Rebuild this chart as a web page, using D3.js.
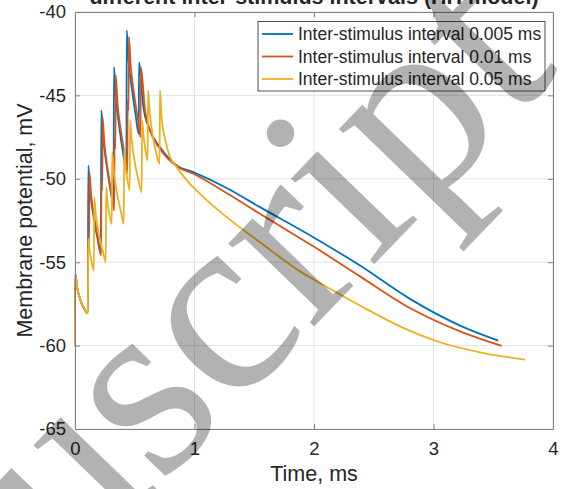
<!DOCTYPE html>
<html>
<head>
<meta charset="utf-8">
<script src="https://cdn.jsdelivr.net/npm/d3@7"></script>
<style>
  body { margin: 0; background: #fff; }
  text { font-family: "Liberation Sans", Arial, sans-serif; fill: #262626; }
</style>
</head>
<body>
<svg width="571" height="489"></svg>
<script>
// legend labels and colours (MATLAB default order)
const seriesNames = ['Inter-stimulus interval 0.005 ms', 'Inter-stimulus interval 0.01 ms', 'Inter-stimulus interval 0.05 ms'];
const seriesColors = ['#0072BD', '#D95319', '#EDB120'];

const xTicks = [0, 1, 2, 3, 4];
const yTicks = [-65, -60, -55, -50, -45, -40];

// [time ms, membrane potential mV]
const isi005 = [
  [0, -60], [0.002, -55.7], [0.02, -56.6], [0.042, -57.2], [0.07, -57.7], [0.108, -58.05],
  [0.111, -49.2], [0.125, -50.6], [0.156, -52.3], [0.186, -53.5], [0.217, -54.5],
  [0.220, -45.9], [0.234, -47.4], [0.265, -49.2], [0.295, -50.6], [0.323, -51.6],
  [0.326, -43.3], [0.340, -45.0], [0.371, -46.9], [0.401, -48.4], [0.430, -49.5],
  [0.433, -41.1], [0.447, -42.8], [0.478, -44.7], [0.508, -46.2], [0.533, -47.3],
  [0.536, -43.0], [0.572, -45.7], [0.628, -47.1], [0.711, -48.1], [0.851, -49.2],
  [0.990, -49.6], [1.269, -50.55], [1.548, -51.7], [1.994, -53.5], [2.385, -55.2],
  [2.803, -57.2], [3.222, -58.8], [3.542, -59.7]
];

const isi01 = [
  [0, -60], [0.002, -55.7], [0.02, -56.6], [0.042, -57.2], [0.07, -57.7], [0.108, -58.05],
  [0.111, -53.6], [0.118, -54.0], [0.121, -49.6], [0.135, -50.95], [0.166, -52.5], [0.196, -53.7], [0.218, -54.6],
  [0.221, -50.2], [0.228, -50.7], [0.231, -46.3], [0.245, -47.8], [0.276, -49.55], [0.306, -50.9], [0.328, -51.9],
  [0.331, -47.5], [0.338, -48.2], [0.341, -43.8], [0.355, -45.4], [0.386, -47.2], [0.416, -48.6], [0.438, -49.7],
  [0.441, -45.3], [0.448, -45.9], [0.451, -41.5], [0.465, -43.1], [0.496, -45.0], [0.526, -46.4], [0.548, -47.5],
  [0.551, -43.3], [0.586, -45.9], [0.628, -47.1], [0.711, -48.2], [0.851, -49.25],
  [0.990, -49.7], [1.269, -50.85], [1.548, -52.1], [1.994, -54.05], [2.385, -55.85],
  [2.803, -57.75], [3.222, -59.15], [3.571, -60.02]
];

const isi05 = [
  [0, -60], [0.002, -55.7], [0.02, -56.6], [0.042, -57.2], [0.07, -57.7], [0.108, -58.05],
  [0.111, -53.6], [0.125, -54.4], [0.14, -55.0], [0.158, -55.5],
  [0.161, -51.1], [0.175, -52.2], [0.205, -53.5], [0.235, -54.4], [0.258, -55.0],
  [0.261, -50.5], [0.275, -51.6], [0.29, -52.2], [0.308, -52.7],
  [0.311, -48.4], [0.325, -49.6], [0.355, -51.0], [0.385, -52.0], [0.408, -52.7],
  [0.411, -48.3], [0.425, -49.4], [0.44, -50.1], [0.458, -50.7],
  [0.461, -46.5], [0.475, -47.7], [0.505, -49.2], [0.535, -50.2], [0.558, -50.8],
  [0.561, -46.5], [0.575, -47.5], [0.59, -48.3], [0.608, -48.9],
  [0.611, -44.7], [0.625, -46.0], [0.655, -47.6], [0.685, -48.6], [0.708, -49.1],
  [0.711, -44.7], [0.725, -46.3], [0.756, -47.7], [0.79, -48.6], [0.851, -49.3],
  [0.962, -50.3], [1.046, -50.9], [1.269, -52.3], [1.548, -53.8], [1.883, -55.55],
  [2.050, -56.25], [2.385, -57.6], [2.720, -58.85], [3.054, -59.8], [3.389, -60.4], [3.766, -60.84]
];

const series = [isi005, isi01, isi05];

const svg = d3.select('svg');

const plotLeft = 75, plotRight = 553, plotTop = 12, plotBottom = 429;

const x = d3.scaleLinear().domain([0, 4]).range([plotLeft, plotRight]);
const y = d3.scaleLinear().domain([-65, -40]).range([plotBottom, plotTop]);

// grid
const grid = svg.append('g').attr('stroke', '#e3e3e3').attr('stroke-width', 1);
grid.selectAll('.gx').data(xTicks).join('line').attr('class', 'gx')
  .attr('x1', d => x(d)).attr('x2', d => x(d))
  .attr('y1', plotTop).attr('y2', plotBottom);
grid.selectAll('.gy').data(yTicks).join('line').attr('class', 'gy')
  .attr('x1', plotLeft).attr('x2', plotRight)
  .attr('y1', d => y(d)).attr('y2', d => y(d));

// curves
const line = d3.line()
  .x(d => x(d[0]))
  .y(d => y(d[1]))
  .curve(d3.curveMonotoneX);

svg.append('g').selectAll('path').data(series).join('path')
  .attr('d', line)
  .attr('fill', 'none')
  .attr('stroke', (d, i) => seriesColors[i])
  .attr('stroke-width', 1.8)
  .attr('stroke-linejoin', 'round');

// axes, MATLAB style: box with inward ticks
const fmt = d => String(d);

const xAxis = svg.append('g')
  .attr('transform', `translate(0,${plotBottom})`)
  .call(d3.axisBottom(x).tickValues(xTicks).tickFormat(fmt).tickSizeInner(-5).tickSizeOuter(0).tickPadding(13));
const yAxis = svg.append('g')
  .attr('transform', `translate(${plotLeft},0)`)
  .call(d3.axisLeft(y).tickValues(yTicks).tickFormat(fmt).tickSizeInner(-5).tickSizeOuter(0).tickPadding(9));
const xTop = svg.append('g')
  .attr('transform', `translate(0,${plotTop})`)
  .call(d3.axisTop(x).tickValues(xTicks).tickFormat('').tickSizeInner(-5).tickSizeOuter(0));
const yRight = svg.append('g')
  .attr('transform', `translate(${plotRight},0)`)
  .call(d3.axisRight(y).tickValues(yTicks).tickFormat('').tickSizeInner(-5).tickSizeOuter(0));

[xAxis, yAxis, xTop, yRight].forEach(a => {
  a.select('.domain').attr('stroke', '#808080');
  a.selectAll('.tick line').attr('stroke', '#808080');
  a.selectAll('.tick text').attr('font-size', 18.5).attr('fill', '#262626')
    .style('font-family', '"Liberation Sans", Arial, sans-serif');
});

// labels
svg.append('text')
  .attr('x', (plotLeft + plotRight) / 2).attr('y', 481)
  .attr('text-anchor', 'middle').attr('font-size', 21.5)
  .text('Time, ms');

svg.append('text')
  .attr('transform', `translate(32,${(plotTop + plotBottom) / 2}) rotate(-90)`)
  .attr('text-anchor', 'middle').attr('font-size', 21.5)
  .text('Membrane potential, mV');

svg.append('text')
  .attr('x', (plotLeft + plotRight) / 2).attr('y', 4)
  .attr('text-anchor', 'middle').attr('font-size', 21.5).attr('font-weight', 'bold')
  .text('different inter-stimulus intervals (HH model)');

// legend
const legend = svg.append('g').attr('transform', 'translate(258,21.5)');
legend.append('rect')
  .attr('width', 287).attr('height', 69.5)
  .attr('fill', '#fff').attr('stroke', '#262626').attr('stroke-width', 0.8);
const rows = legend.selectAll('.row').data(seriesNames).join('g').attr('class', 'row')
  .attr('transform', (d, i) => `translate(0,${12.5 + i * 22.5})`);
rows.append('line')
  .attr('x1', 4).attr('x2', 35)
  .attr('stroke', (d, i) => seriesColors[i]).attr('stroke-width', 1.8);
rows.append('text')
  .attr('x', 40).attr('dy', '0.35em')
  .attr('font-size', 17.5)
  .text(d => d);

// grey watermark lying over the whole figure
const mark = svg.append('text')
  .attr('transform', 'translate(160,486) rotate(-46)')
  .style('font-family', '"Liberation Serif", "DejaVu Serif", serif')
  .style('fill', '#000').style('fill-opacity', 0.3)
  .attr('font-size', 260)
  .text('Manuscript');
const manuWidth = mark.node().getSubStringLength(0, 4);
mark.attr('x', -manuWidth);
</script>
</body>
</html>
